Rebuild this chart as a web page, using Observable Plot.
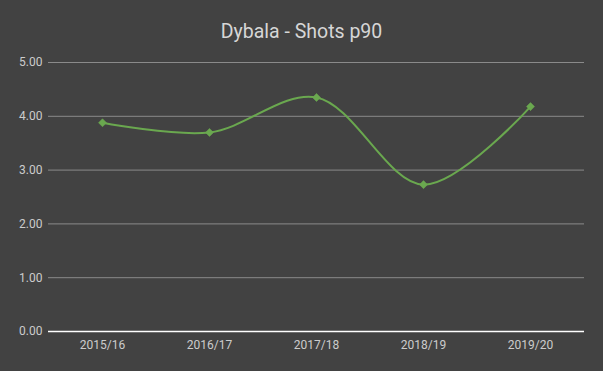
<!DOCTYPE html>
<html><head><meta charset="utf-8">
<script src="https://cdn.jsdelivr.net/npm/d3@7"></script>
<script src="https://cdn.jsdelivr.net/npm/@observablehq/plot@0.6"></script>
<style>
html,body{margin:0;padding:0;background:#424242;}
#wrap{width:603px;height:371px;background:#424242;font-family:Roboto,sans-serif;}
#title{height:50px;line-height:64px;text-align:center;color:#d6d6d6;font-size:19.5px;}
</style></head>
<body><div id="wrap"><div id="title">Dybala - Shots p90</div><div id="chart"></div></div>
<script>
const seasons = ["2015/16","2016/17","2017/18","2018/19","2019/20"];
const shots = [3.88, 3.70, 4.35, 2.73, 4.18];
const yTicks = [0,1,2,3,4,5];

const data = seasons.map((s,i)=>({season:s, value:shots[i]}));

const chart = Plot.plot({
  width: 603, height: 321,
  marginTop: 12, marginBottom: 40, marginLeft: 48, marginRight: 19,
  style: {background:"#424242", color:"#cccccc", fontFamily:"Roboto, sans-serif", fontSize:"12px"},
  x: {type:"point", domain: seasons, padding: 0.5, label: null, tickSize: 0, tickPadding: 9},
  y: {domain:[0,5], ticks: yTicks, tickFormat: d=>d.toFixed(2), label:null, tickSize:0, tickPadding:6},
  marks: [
    Plot.gridY(yTicks.filter(d=>d>0), {stroke:"#8a8a8a", strokeOpacity:1, strokeWidth:1}),
    Plot.ruleY([0], {stroke:"#ffffff", strokeWidth:1.5}),
    Plot.line(data, {x:"season", y:"value", stroke:"#6aa84f", strokeWidth:2, curve:"catmull-rom"}),
    Plot.dot(data, {x:"season", y:"value", symbol:"square", rotate:45, r:3.2, fill:"#6aa84f", stroke:"#6aa84f", strokeWidth:0.5})
  ]
});
document.getElementById("chart").appendChild(chart);
</script></body></html>
